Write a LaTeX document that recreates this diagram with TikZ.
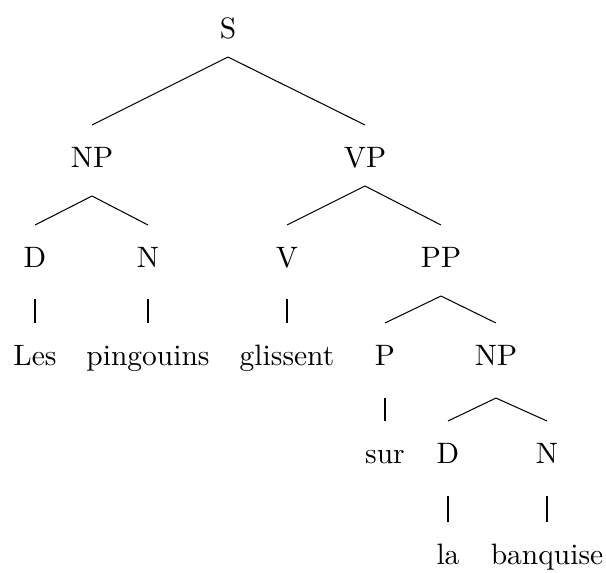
\documentclass[tikz,border=0pt]{standalone}
\begin{document}
\begin{tikzpicture}[x=0.339pt,y=-0.339pt,
  lab/.style={anchor=base,inner sep=0pt},
  edge/.style={line width=0.35pt}]
\useasboundingbox (0,0) rectangle (606,572);
% nodes (x = centre, y = baseline, in px)
\node[lab] (S) at (228,38) {S};
\node[lab] (NP) at (92,167) {NP};
\node[lab] (VP) at (365,167) {VP};
\node[lab] (D) at (35,267) {D};
\node[lab] (N) at (148,267) {N};
\node[lab] (V) at (287,267) {V};
\node[lab] (PP) at (441,267) {PP};
\node[lab] (Les) at (35,365) {Les};
\node[lab] (pingouins) at (148,365) {pingouins};
\node[lab] (glissent) at (287,365) {glissent};
\node[lab] (P) at (385,365) {P};
\node[lab] (NPb) at (496,365) {NP};
\node[lab] (sur) at (385,463) {sur};
\node[lab] (Db) at (448,463) {D};
\node[lab] (Nb) at (547,463) {N};
\node[lab] (la) at (448,564) {la};
\node[lab] (banquise) at (547,564) {banquise};
% edges
\def\ct{14.24pt}
\draw[edge] ([yshift=-6.44pt]S.base) -- ([yshift=\ct]NP.base);
\draw[edge] ([yshift=-6.44pt]S.base) -- ([yshift=\ct]VP.base);
\draw[edge] ([yshift=-9.83pt]NP.base) -- ([yshift=\ct]D.base);
\draw[edge] ([yshift=-9.83pt]NP.base) -- ([yshift=\ct]N.base);
\draw[edge] ([yshift=-6.44pt]VP.base) -- ([yshift=\ct]V.base);
\draw[edge] ([yshift=-6.44pt]VP.base) -- ([yshift=\ct]PP.base);
\draw[edge] ([yshift=-10.85pt]D.base) -- ([yshift=\ct]Les.base);
\draw[edge] ([yshift=-10.85pt]N.base) -- ([yshift=\ct]pingouins.base);
\draw[edge] ([yshift=-10.85pt]V.base) -- ([yshift=\ct]glissent.base);
\draw[edge] ([yshift=-9.83pt]PP.base) -- ([yshift=\ct]P.base);
\draw[edge] ([yshift=-9.83pt]PP.base) -- ([yshift=\ct]NPb.base);
\draw[edge] ([yshift=-11.2pt]P.base) -- ([yshift=\ct]sur.base);
\draw[edge] ([yshift=-11.2pt]NPb.base) -- ([yshift=\ct]Db.base);
\draw[edge] ([yshift=-11.2pt]NPb.base) -- ([yshift=\ct]Nb.base);
\draw[edge] ([yshift=-11.2pt]Db.base) -- ([yshift=\ct]la.base);
\draw[edge] ([yshift=-11.2pt]Nb.base) -- ([yshift=\ct]banquise.base);
\end{tikzpicture}
\end{document}
